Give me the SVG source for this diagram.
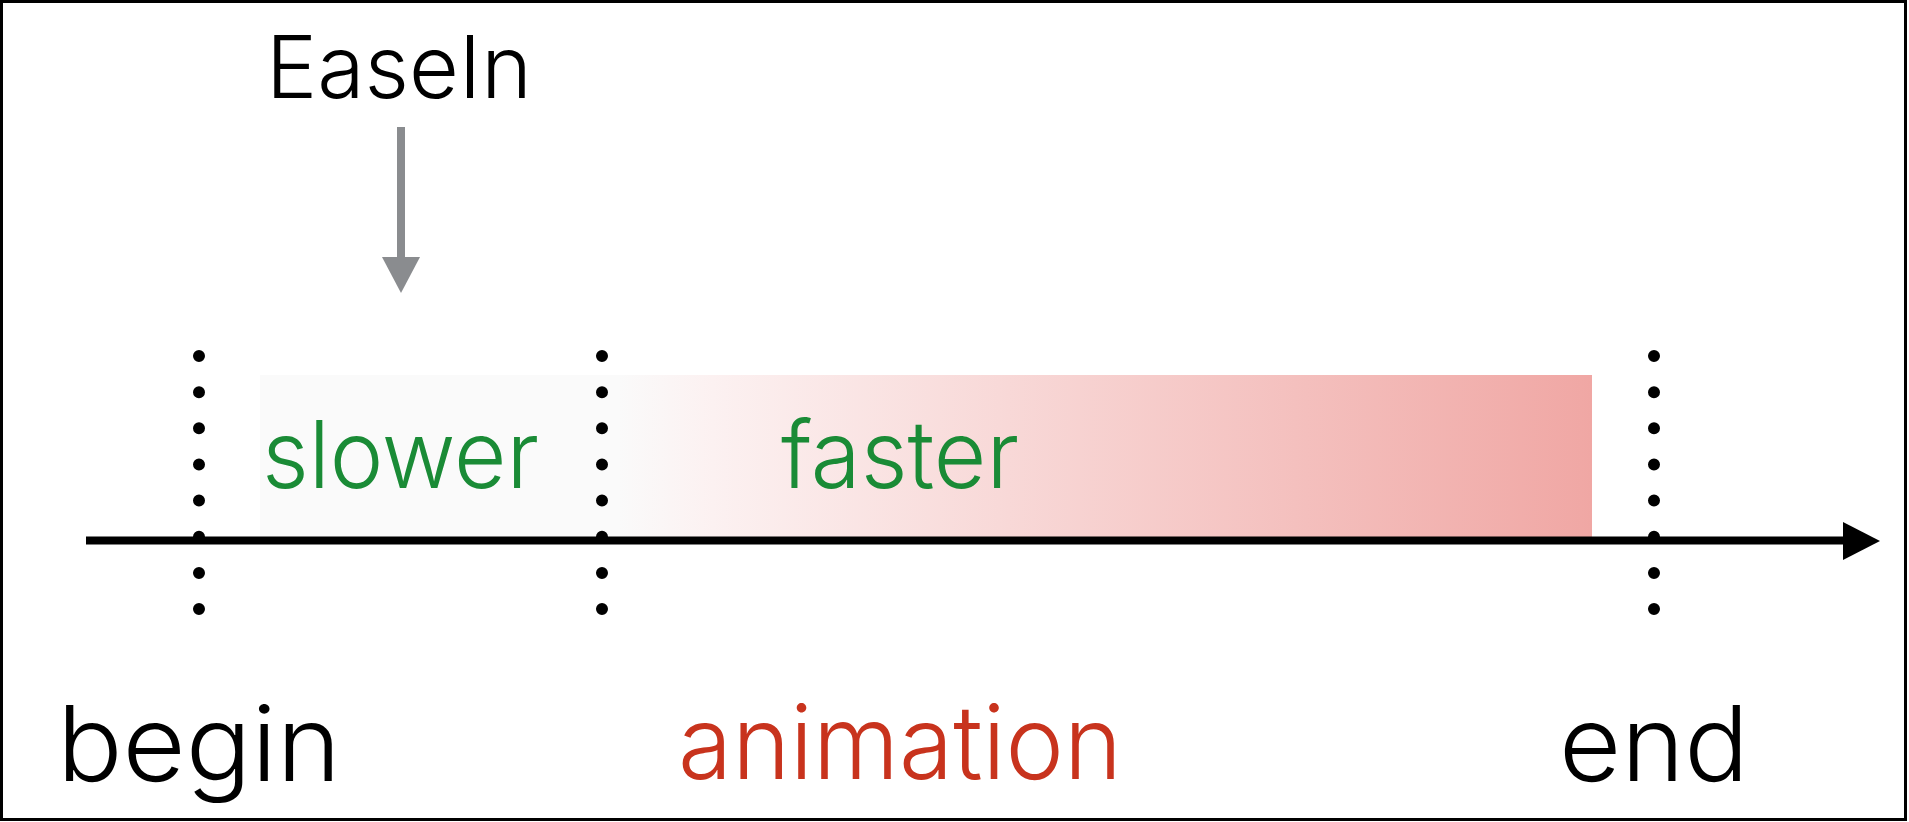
<svg xmlns="http://www.w3.org/2000/svg" width="1909" height="822" viewBox="0 0 1909 822">
  <defs>
    <style>
      .lbl { font-family: "Inter", "Liberation Sans", sans-serif; font-weight: 300; }
      .green { fill: #1a8b36; }
      .dark { fill: #000000; }
      .red { fill: #c8331d; }
      .dots { stroke: #000; stroke-width: 12; stroke-linecap: round; stroke-dasharray: 0 36.15; fill: none; }
    </style>
    <linearGradient id="speedFill" x1="260" y1="0" x2="1592" y2="0" gradientUnits="userSpaceOnUse">
      <stop offset="0" stop-color="#fafafa"/>
      <stop offset="0.27" stop-color="#fafafa"/>
      <stop offset="0.34" stop-color="#fcf1f1"/>
      <stop offset="1" stop-color="#f0a7a4"/>
    </linearGradient>
  </defs>

  <!-- frame -->
  <rect x="1.5" y="1.5" width="1904" height="818" fill="#ffffff" stroke="#000" stroke-width="3"/>

  <!-- speed band -->
  <g id="band">
    <rect x="260" y="375" width="1332" height="163" fill="url(#speedFill)"/>
  </g>

  <!-- phase markers -->
  <g id="markers">
    <line class="dots" x1="199" y1="356" x2="199" y2="612"/>
    <line class="dots" x1="602" y1="356" x2="602" y2="612"/>
    <line class="dots" x1="1654" y1="356" x2="1654" y2="612"/>
  </g>

  <g id="connectors">
    <!-- time axis -->
    <line x1="86" y1="540.5" x2="1846" y2="540.5" stroke="#000" stroke-width="8"/>
    <polygon points="1843,522 1880,541 1843,560" fill="#000"/>
    <!-- EaseIn pointer -->
    <line x1="401" y1="127" x2="401" y2="260" stroke="#8a8c8f" stroke-width="8"/>
    <polygon points="382,257 420,257 401,293" fill="#8a8c8f"/>
  </g>

  <g id="easein">
    <text class="lbl dark" x="266" y="98" font-size="86" textLength="266" lengthAdjust="spacingAndGlyphs">EaseIn</text>
  </g>
  <g id="slower">
    <text class="lbl green" x="262" y="488" font-size="94" textLength="277" lengthAdjust="spacingAndGlyphs">slower</text>
  </g>
  <g id="faster">
    <text class="lbl green" x="781" y="488" font-size="94" textLength="238" lengthAdjust="spacingAndGlyphs">faster</text>
  </g>
  <g id="begin">
    <text class="lbl dark" x="57" y="781" font-size="104" textLength="284" lengthAdjust="spacingAndGlyphs">begin</text>
  </g>
  <g id="animation">
    <text class="lbl red" x="678" y="779" font-size="102" textLength="444" lengthAdjust="spacingAndGlyphs">animation</text>
  </g>
  <g id="end">
    <text class="lbl dark" x="1559" y="781" font-size="104" textLength="190" lengthAdjust="spacingAndGlyphs">end</text>
  </g>
</svg>
